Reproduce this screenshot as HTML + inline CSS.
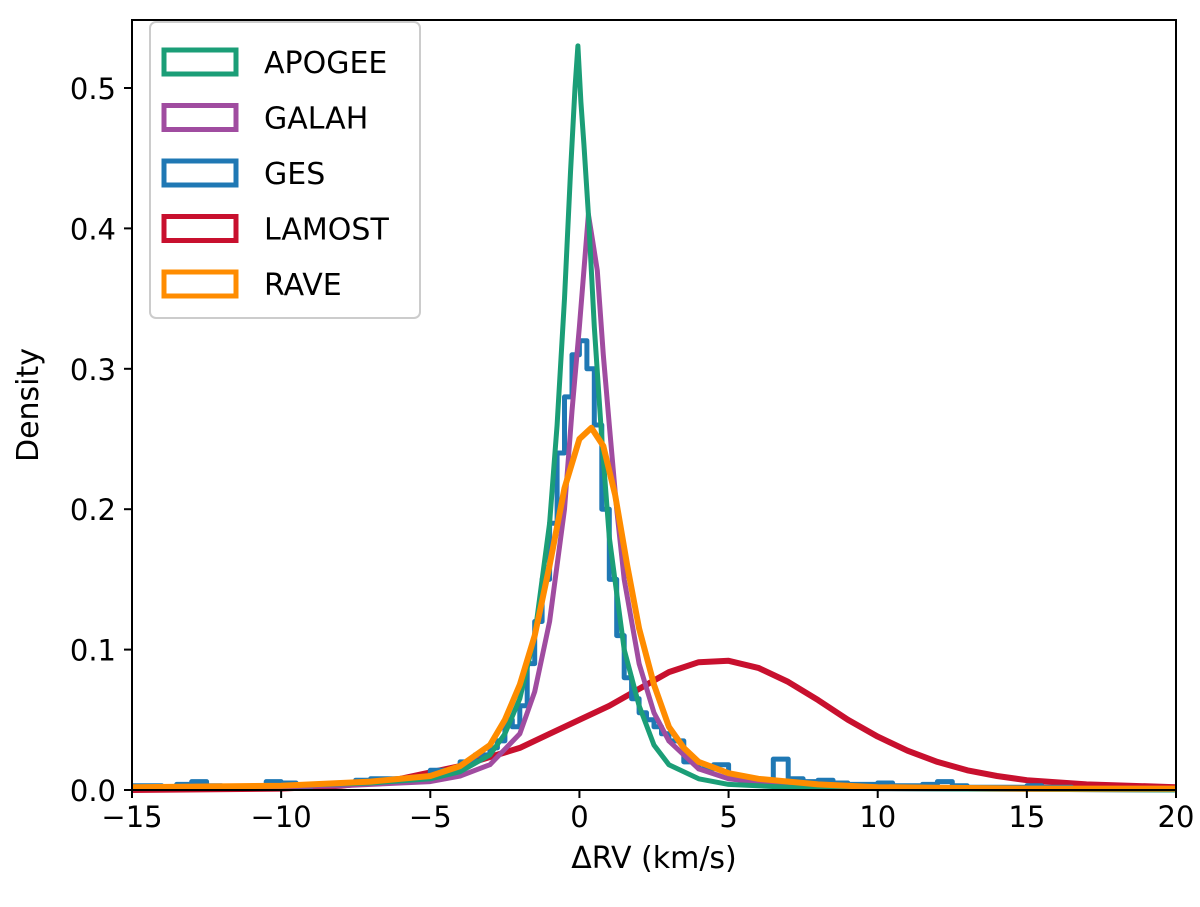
<!DOCTYPE html>
<html><head><meta charset="utf-8"><style>
body{margin:0;background:#fff}
svg text{font-family:"DejaVu Sans","Liberation Sans",sans-serif;fill:#000}
</style></head><body>
<svg width="1200" height="902" id="chart">
<g id="series"></g>
<rect x="132" y="20" width="1044" height="770" fill="none" stroke="#000" stroke-width="2"/>
<g id="axes"></g>
<text x="654" y="868" font-size="30" text-anchor="middle">ΔRV (km/s)</text>
<text transform="translate(38,405) rotate(-90)" font-size="30" text-anchor="middle">Density</text>
<g>
<rect x="150" y="22" width="270" height="296" rx="6" fill="#fff" stroke="#ccc" stroke-width="2"/>
<g id="legend-items"></g>
</g>
</svg>
<script>
const xTicks=[-15,-10,-5,0,5,10,15,20];
const yTicks=[0.0,0.1,0.2,0.3,0.4,0.5];
const names=["APOGEE","GALAH","GES","LAMOST","RAVE"];
const colors=["#1b9e77","#a04ca0","#1f78b4","#c8102e","#ff8c00"];
const apogeeX=[-15,-10,-7,-5,-4,-3,-2.5,-2,-1.5,-1,-0.75,-0.5,-0.3,-0.15,-0.05,0.05,0.15,0.3,0.5,0.75,1,1.5,2,2.5,3,4,5,7,10,20];
const apogeeY=[0.002,0.003,0.005,0.008,0.013,0.025,0.04,0.065,0.11,0.19,0.26,0.35,0.44,0.5,0.53,0.49,0.46,0.41,0.33,0.25,0.18,0.1,0.06,0.032,0.018,0.008,0.004,0.002,0.001,0];
const galahX=[-15,-8,-5,-4,-3,-2,-1.5,-1,-0.5,-0.25,0,0.15,0.3,0.45,0.6,0.8,1,1.25,1.5,2,2.5,3,4,5,7,10,20];
const galahY=[0.001,0.003,0.006,0.01,0.018,0.04,0.07,0.12,0.2,0.27,0.33,0.37,0.41,0.39,0.37,0.31,0.26,0.2,0.15,0.09,0.055,0.035,0.015,0.008,0.003,0.001,0];
const gesLeftY=[0.003,0.003,0.002,0.004,0.006,0.003,0.002,0.002,0.003,0.006,0.005,0.002,0.003,0.003,0.004,0.007,0.008,0.008,0.007,0.009,0.014,0.01,0.02,0.025];
const gesCenterY=[0.03,0.035,0.05,0.045,0.06,0.09,0.12,0.15,0.19,0.24,0.28,0.31,0.32,0.3,0.26,0.2,0.15,0.11,0.08,0.065,0.055,0.05,0.045,0.04];
const gesRightY=[0.035,0.02,0.015,0.018,0.01,0.005,0.005,0.022,0.008,0.006,0.007,0.005,0.004,0.004,0.005,0.003,0.003,0.004,0.006,0.003,0.002,0.002,0.002,0.002,0.003,0.002,0.002,0.001,0.001,0.001,0.001,0.001,0.001,0.001];
const lamostX=[-15,-10,-8,-6,-4,-2,-1,0,1,2,3,4,5,6,7,8,9,10,11,12,13,14,15,17,20];
const lamostY=[0,0.001,0.003,0.008,0.017,0.03,0.04,0.05,0.06,0.072,0.084,0.091,0.092,0.087,0.077,0.064,0.05,0.038,0.028,0.02,0.014,0.01,0.007,0.004,0.002];
const raveX=[-15,-10,-7,-5,-4,-3,-2.5,-2,-1.5,-1,-0.5,0,0.4,0.8,1.2,1.6,2,2.5,3,3.5,4,5,6,8,10,15,20];
const raveY=[0.002,0.003,0.006,0.01,0.017,0.032,0.05,0.075,0.11,0.16,0.215,0.25,0.258,0.245,0.21,0.16,0.115,0.075,0.045,0.03,0.02,0.012,0.008,0.004,0.002,0.001,0.001];

const X=v=>132+(v+15)*(1044/35);
const Y=v=>790-v*1404;
const NS="http://www.w3.org/2000/svg";
const sg=document.getElementById('series');
function line(xs,ys,color,name,w){
  const p=document.createElementNS(NS,'polyline');
  p.setAttribute('points',xs.map((x,i)=>X(x).toFixed(1)+','+Y(ys[i]).toFixed(1)).join(' '));
  p.setAttribute('fill','none');p.setAttribute('stroke',color);p.setAttribute('stroke-width',w);
  p.setAttribute('stroke-linejoin','round');
  
  
  sg.appendChild(p);
}
line(lamostX,lamostY,colors[3],'lamost-line',6);
const gx=[],gy=[];
function addBins(start,w,vals){vals.forEach((v,i)=>{gx.push(start+i*w,start+(i+1)*w);gy.push(v,v);});}
addBins(-15,0.5,gesLeftY);
addBins(-3,0.25,gesCenterY);
addBins(3,0.5,gesRightY);
line(gx,gy,colors[2],'ges-histogram',5);
line(galahX,galahY,colors[1],'galah-line',5);
line(apogeeX,apogeeY,colors[0],'apogee-line',5);
line(raveX,raveY,colors[4],'rave-line',6);

const ax=document.getElementById('axes');
function el(tag,attrs,txt){const e=document.createElementNS(NS,tag);for(const k in attrs)e.setAttribute(k,attrs[k]);if(txt!==undefined)e.textContent=txt;ax.appendChild(e);return e;}
xTicks.forEach(t=>{
  const l=el('line',{x1:X(t),x2:X(t),y1:790,y2:798,stroke:'#000','stroke-width':2});
  
  
  const s=el('text',{x:X(t),y:827,'font-size':29,'text-anchor':'middle'},(t<0?'\u2212'+(-t):String(t)));
  
  
});
yTicks.forEach(t=>{
  const l=el('line',{x1:124,x2:132,y1:Y(t),y2:Y(t),stroke:'#000','stroke-width':2});
  
  
  const s=el('text',{x:116,y:Y(t)+11,'font-size':29,'text-anchor':'end'},t.toFixed(1));
  
  
});
const lg=document.getElementById('legend-items');
names.forEach((n,i)=>{
  const cy=62+i*55.5;
  const r=document.createElementNS(NS,'rect');
  r.setAttribute('x',164);r.setAttribute('y',cy-12);r.setAttribute('width',72);r.setAttribute('height',24);
  r.setAttribute('fill','none');r.setAttribute('stroke',colors[i]);r.setAttribute('stroke-width',5);
  
  
  lg.appendChild(r);
  const t=document.createElementNS(NS,'text');
  t.setAttribute('x',264);t.setAttribute('y',cy+11);t.setAttribute('font-size',30);t.textContent=n;
  
  
  lg.appendChild(t);
});
</script>
</body></html>
